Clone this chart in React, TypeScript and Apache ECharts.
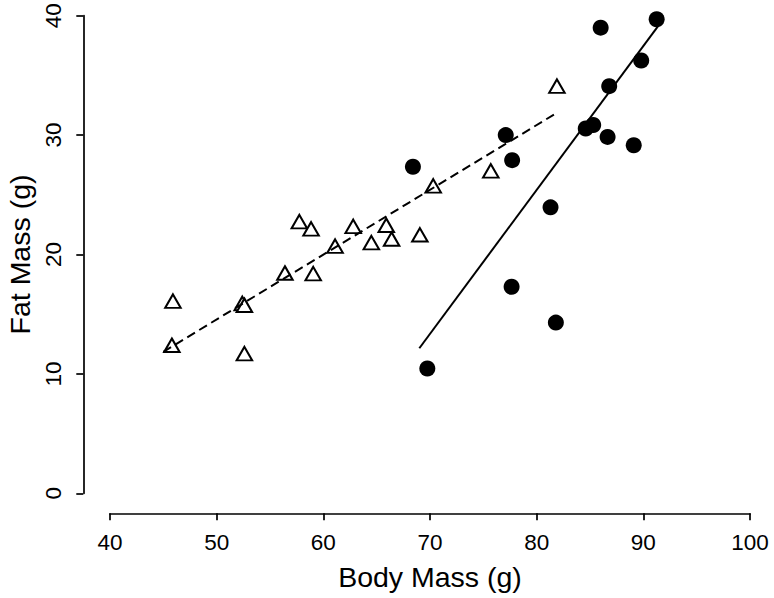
import React, { useEffect, useRef } from "react";
import * as echarts from "echarts";

// Open triangles (group A): body mass (g), fat mass (g)
const triBody = [45.9, 45.8, 52.4, 52.6, 52.6, 56.4, 57.75, 58.85, 59.05, 61.1, 62.8, 64.5, 65.9, 66.4, 69.05, 70.3, 75.7, 81.9];
const triFat = [16.1, 12.4, 15.9, 15.75, 11.7, 18.45, 22.75, 22.15, 18.4, 20.7, 22.35, 21.0, 22.45, 21.3, 21.65, 25.75, 27.0, 34.1];

// Filled circles (group B)
const dotBody = [68.4, 69.75, 77.1, 77.7, 77.65, 81.3, 81.8, 84.6, 85.3, 86.0, 86.65, 86.8, 89.1, 89.8, 91.25];
const dotFat = [27.35, 10.45, 30.0, 27.9, 17.3, 23.95, 14.3, 30.55, 30.85, 39.0, 29.85, 34.1, 29.15, 36.25, 39.7];

// Fitted regression lines (endpoints)
const fitA_x = [45.0, 81.95];
const fitA_y = [11.85, 31.9];
const fitB_x = [69.0, 91.4];
const fitB_y = [12.15, 39.15];

const xTicks = { min: 40, max: 100, interval: 10 };
const yTicks = { min: 0, max: 40, interval: 10 };

const FONT = "'Liberation Sans', Arial, Helvetica, sans-serif";

export default function App() {
  const ref = useRef<HTMLDivElement>(null);
  useEffect(() => {
    if (!ref.current) return;
    const chart = echarts.init(ref.current, undefined, { renderer: "svg" });
    const zip = (a: number[], b: number[]) => a.map((v, i) => [v, b[i]]);
    chart.setOption({
      animation: false,
      backgroundColor: "#ffffff",
      textStyle: { fontFamily: FONT, color: "#000" },
      grid: { left: 110, top: 15.7, width: 640, height: 477.6, outerBoundsMode: "none", containLabel: false },
      xAxis: {
        type: "value",
        min: xTicks.min,
        max: xTicks.max,
        interval: xTicks.interval,
        offset: 20,
        name: "Body Mass (g)",
        nameLocation: "middle",
        nameGap: 49,
        nameTextStyle: { fontSize: 28.5, color: "#000", fontFamily: FONT },
        axisLine: { show: true, onZero: false, lineStyle: { color: "#000", width: 1.7 } },
        axisTick: { show: true, inside: false, length: 7, lineStyle: { color: "#000", width: 1.7 } },
        axisLabel: { fontSize: 22.5, color: "#000", margin: 18, fontFamily: FONT },
        splitLine: { show: false },
      },
      yAxis: {
        type: "value",
        min: yTicks.min,
        max: yTicks.max,
        interval: yTicks.interval,
        offset: 26.7,
        name: "Fat Mass (g)",
        nameLocation: "middle",
        nameGap: 48,
        nameTextStyle: { fontSize: 28.5, color: "#000", fontFamily: FONT },
        axisLine: { show: true, onZero: false, lineStyle: { color: "#000", width: 1.7 } },
        axisTick: { show: true, inside: false, length: 7, lineStyle: { color: "#000", width: 1.7 } },
        axisLabel: { fontSize: 22.5, color: "#000", margin: 18, rotate: 90, fontFamily: FONT },
        splitLine: { show: false },
      },
      series: [
        {
          type: "scatter",
          data: zip(dotBody, dotFat),
          symbol: "circle",
          symbolSize: 16,
          itemStyle: { color: "#000", opacity: 1 },
          z: 3,
        },
        {
          type: "scatter",
          data: zip(triBody, triFat),
          symbol: "triangle",
          symbolSize: [15.5, 13.5],
          itemStyle: { color: "#fff", borderColor: "#000", borderWidth: 2, opacity: 1 },
          z: 3,
        },
        {
          type: "line",
          data: zip(fitA_x, fitA_y),
          symbol: "none",
          lineStyle: { color: "#000", width: 2, type: [9, 5] },
          z: 4,
        },
        {
          type: "line",
          data: zip(fitB_x, fitB_y),
          symbol: "none",
          lineStyle: { color: "#000", width: 2, type: "solid" },
          z: 4,
        },
      ],
    });
    return () => chart.dispose();
  }, []);
  return (
    <div
      ref={ref}
      style={{ position: "fixed", left: 0, top: 0, width: 774, height: 598, background: "#fff" }}
    />
  );
}
